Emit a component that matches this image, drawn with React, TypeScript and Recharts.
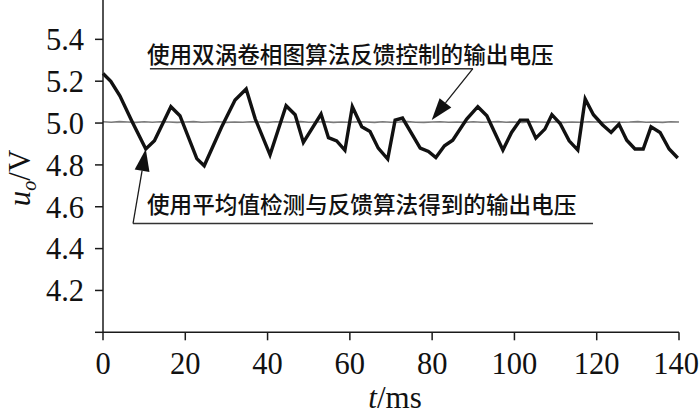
import React from 'react';
import { LineChart, Line, XAxis, YAxis, ReferenceLine } from 'recharts';

// Black curve: output voltage with average-value detection + feedback
const avgTimeMs = [0, 1.9, 4.1, 7.0, 10.4, 12.5, 16.5, 18.7, 22.8, 24.6, 28.8, 32.1, 34.8, 37.0, 40.6, 44.5, 46.7, 48.7, 53.0, 54.8, 56.8, 58.8, 60.6, 62.9, 64.9, 66.9, 69.2, 71.0, 72.8, 77.1, 79.1, 80.9, 83.0, 85.0, 88.4, 91.1, 93.3, 97.2, 99.3, 101.4, 103.2, 105.2, 107.4, 109.1, 111.1, 113.3, 115.4, 117.2, 119.2, 121.4, 123.5, 125.4, 127.3, 129.3, 131.3, 133.2, 135.4, 137.6, 139.7];
const avgVoltage = [5.237, 5.199, 5.13, 5.01, 4.876, 4.915, 5.078, 5.035, 4.83, 4.796, 4.98, 5.11, 5.163, 5.02, 4.848, 5.083, 5.04, 4.907, 5.043, 4.93, 4.915, 4.87, 5.078, 4.982, 4.96, 4.88, 4.828, 5.014, 5.024, 4.88, 4.864, 4.835, 4.891, 4.918, 5.019, 5.078, 5.035, 4.871, 4.955, 5.014, 5.014, 4.928, 4.971, 5.04, 4.998, 4.915, 4.871, 5.115, 5.04, 4.992, 4.955, 4.995, 4.918, 4.876, 4.876, 4.982, 4.955, 4.876, 4.833];

// Gray curve: output voltage with double-scroll phase-portrait feedback
const scrollTimeMs = [0, 2, 4, 6, 8, 10, 12, 14, 16, 18, 20, 22, 24, 26, 28, 30, 32, 34, 36, 38, 40, 42, 44, 46, 48, 50, 52, 54, 56, 58, 60, 62, 64, 66, 68, 70, 72, 74, 76, 78, 80, 82, 84, 86, 88, 90, 92, 94, 96, 98, 100, 102, 104, 106, 108, 110, 112, 114, 116, 118, 120, 122, 124, 126, 128, 130, 132, 134, 136, 138, 140];
const scrollVoltage = [5.006, 5.004, 5.007, 5.005, 5.003, 5.006, 5.004, 5.006, 5.005, 5.003, 5.005, 5.007, 5.004, 5.005, 5.006, 5.003, 5.005, 5.004, 5.006, 5.005, 5.003, 5.006, 5.005, 5.004, 5.007, 5.004, 5.005, 5.006, 5.003, 5.005, 5.004, 5.006, 5.005, 5.003, 5.006, 5.004, 5.005, 5.007, 5.004, 5.003, 5.005, 5.006, 5.004, 5.005, 5.003, 5.006, 5.004, 5.005, 5.007, 5.004, 5.005, 5.003, 5.006, 5.005, 5.004, 5.006, 5.003, 5.005, 5.004, 5.006, 5.005, 5.003, 5.006, 5.004, 5.005, 5.007, 5.004, 5.005, 5.003, 5.006, 5.005];

const xTicks = [0, 20, 40, 60, 80, 100, 120, 140];
const yTicks = [4.0, 4.2, 4.4, 4.6, 4.8, 5.0, 5.2, 5.4];

const noteTopText = '使用双涡卷相图算法反馈控制的输出电压';
const noteBottomText = '使用平均值检测与反馈算法得到的输出电压';
// annotation anchors in data coordinates [t, u]
const noteTopLine = [[11.4, 5.26], [89.9, 5.26]];
const noteTopArrow = [[89.9, 5.26], [79.9, 5.014]];
const noteBottomLine = [[7.3, 4.52], [119.1, 4.52]];
const noteBottomArrow = [[7.3, 4.52], [10.4, 4.876]];

const serif = '"Liberation Serif", "Times New Roman", serif';
const cjk = '"Noto Sans CJK SC", "Noto Sans", sans-serif';
const ink = '#1a1a1a';
const tickFont = 30.5;

// merge into one table
const tableMap = new Map<number, any>();
avgTimeMs.forEach((t, i) => {
  const r = tableMap.get(t) || { t };
  r.avg = avgVoltage[i];
  tableMap.set(t, r);
});
scrollTimeMs.forEach((t, i) => {
  const r = tableMap.get(t) || { t };
  r.scroll = scrollVoltage[i];
  tableMap.set(t, r);
});
const data = Array.from(tableMap.values()).sort((a, b) => a.t - b.t);

const seg = (pts: number[][]) => pts.map(([x, y]) => ({ x, y }));

const arrowShape = (props: any) => {
  const { x1, y1, x2, y2 } = props;
  const dx = x2 - x1;
  const dy = y2 - y1;
  const len = Math.hypot(dx, dy) || 1;
  const ux = dx / len;
  const uy = dy / len;
  const L = 22;
  const W = 7.5;
  const bx = x2 - ux * L;
  const by = y2 - uy * L;
  const pts = `${x2},${y2} ${bx - uy * W},${by + ux * W} ${bx + uy * W},${by - ux * W}`;
  return (
    <g>
      <line x1={x1} y1={y1} x2={bx} y2={by} stroke={ink} strokeWidth={1.3} />
      <polygon points={pts} fill="#111" />
    </g>
  );
};

const noteShape = (text: string, dx: number, dy: number) => (props: any) => {
  const { x1, y1, x2, y2 } = props;
  return (
    <g>
      <line x1={x1} y1={y1} x2={x2} y2={y2} stroke="#333" strokeWidth={1.5} />
      <text x={x1 + dx} y={y1 + dy} fontFamily={cjk} fontSize={22.6} fontWeight={500} fill="#111">
        {text}
      </text>
    </g>
  );
};

const XTick = (props: any) => {
  const { x, y, payload } = props;
  const label = String(payload.value);
  const halfW = label.length * tickFont * 0.25;
  const cx = Math.min(x, 699 - halfW);
  return (
    <text x={cx} y={y + 8 + 2} dy="0.71em" textAnchor="middle" fontFamily={serif} fontSize={tickFont} fill="#111">
      {label}
    </text>
  );
};

const YLabel = (props: any) => {
  const vb = props.viewBox || {};
  const x = vb.x + 27;
  const y = vb.y + vb.height / 2 + 13;
  return (
    <text x={x} y={y} transform={`rotate(-90, ${x}, ${y})`} textAnchor="middle" fontFamily={serif} fontSize={31} fill="#111">
      <tspan fontStyle="italic">u</tspan>
      <tspan fontStyle="italic" fontSize={20} dy={6}>o</tspan>
      <tspan dy={-6}>/V</tspan>
    </text>
  );
};

const XLabel = (props: any) => {
  const vb = props.viewBox || {};
  const x = vb.x + vb.width / 2 + 4;
  const y = vb.y + 76;
  return (
    <text x={x} y={y} textAnchor="middle" fontFamily={serif} fontSize={31} fill="#111">
      <tspan fontStyle="italic">t</tspan>
      <tspan>/ms</tspan>
    </text>
  );
};

export default function App() {
  return (
    <div style={{ position: 'absolute', left: 0, top: -3, width: 700, height: 418, background: '#fff' }}>
      <LineChart width={700} height={418} data={data} margin={{ top: 0.5, right: 21, bottom: 42.7, left: 3 }}>
        <XAxis
          dataKey="t"
          type="number"
          domain={[0, 140]}
          ticks={xTicks}
          height={40}
          axisLine={{ stroke: ink, strokeWidth: 1.5 }}
          tickLine={{ stroke: ink, strokeWidth: 1.5 }}
          tickSize={8}
          tickMargin={2}
          tick={<XTick />}
          interval={0}
          label={<XLabel />}
        />
        <YAxis
          type="number"
          domain={[4.0, 5.6]}
          ticks={yTicks}
          width={100}
          allowDataOverflow
          axisLine={{ stroke: ink, strokeWidth: 1.5 }}
          tickLine={{ stroke: ink, strokeWidth: 1.5 }}
          tickSize={8}
          tickMargin={11}
          tick={{ fill: '#111', fontSize: tickFont, fontFamily: serif }}
          tickFormatter={(v: number) => (v === 4 ? '' : v.toFixed(1))}
          interval={0}
          label={<YLabel />}
        />
        <Line dataKey="scroll" stroke="#7a7a7a" strokeWidth={1.6} dot={false} connectNulls isAnimationActive={false} />
        <Line dataKey="avg" stroke="#111" strokeWidth={3.4} strokeLinejoin="miter" dot={false} connectNulls isAnimationActive={false} />
        <ReferenceLine segment={seg(noteTopLine)} ifOverflow="visible" shape={noteShape(noteTopText, -3, -6)} />
        <ReferenceLine segment={seg(noteTopArrow)} ifOverflow="visible" shape={arrowShape} />
        <ReferenceLine segment={seg(noteBottomLine)} ifOverflow="visible" shape={noteShape(noteBottomText, 14, -10)} />
        <ReferenceLine segment={seg(noteBottomArrow)} ifOverflow="visible" shape={arrowShape} />
      </LineChart>
    </div>
  );
}
